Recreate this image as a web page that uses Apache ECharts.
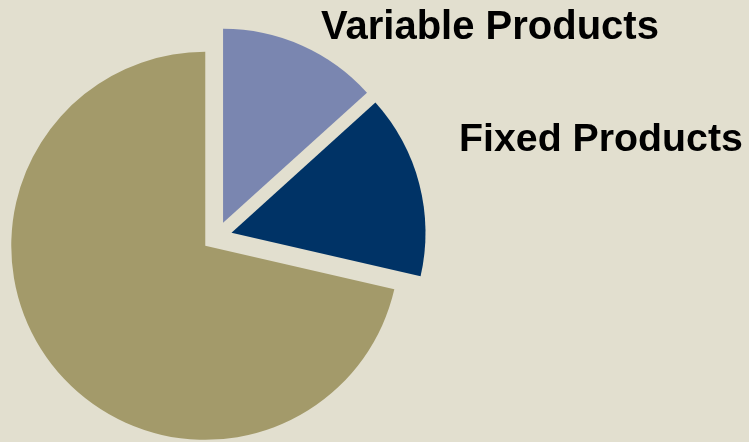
<!DOCTYPE html>
<html>
<head>
<meta charset="utf-8">
<script src="https://cdn.jsdelivr.net/npm/echarts@6/dist/echarts.min.js"></script>
<style>
html,body{margin:0;padding:0;background:#E2DFCF;}
#chart{width:749px;height:442px;}
</style>
</head>
<body>
<div id="chart"></div>
<script>
var categories = ['Variable Products', 'Fixed Products', 'Other'];
var values = [13.3, 15.3, 71.4];
var colors = ['#7A86B0', '#003366', '#A39A6A'];
var shownLabels = ['Variable Products', 'Fixed Products'];

var chart = echarts.init(document.getElementById('chart'));
var labelPos = [[321, 38], [459, 151]];
var labelSizes = [40, 39.3];
var graphics = shownLabels.map(function (name, i) {
  return {
    type: 'text',
    left: labelPos[i][0],
    top: labelPos[i][1] - 30,
    style: {
      text: name,
      font: 'bold ' + labelSizes[i] + 'px "Liberation Sans", Arial, sans-serif',
      fill: '#000000'
    }
  };
});

chart.setOption({
  backgroundColor: '#E2DFCF',
  animation: false,
  graphic: graphics,
  series: [{
    type: 'pie',
    center: [217, 236.5],
    radius: 194,
    startAngle: 90,
    clockwise: true,
    selectedMode: 'multiple',
    selectedOffset: 15,
    label: { show: false },
    labelLine: { show: false },
    emphasis: { disabled: true },
    itemStyle: { borderWidth: 0 },
    data: categories.map(function (c, i) {
      return { name: c, value: values[i], selected: true, itemStyle: { color: colors[i] } };
    })
  }]
});
</script>
</body>
</html>
